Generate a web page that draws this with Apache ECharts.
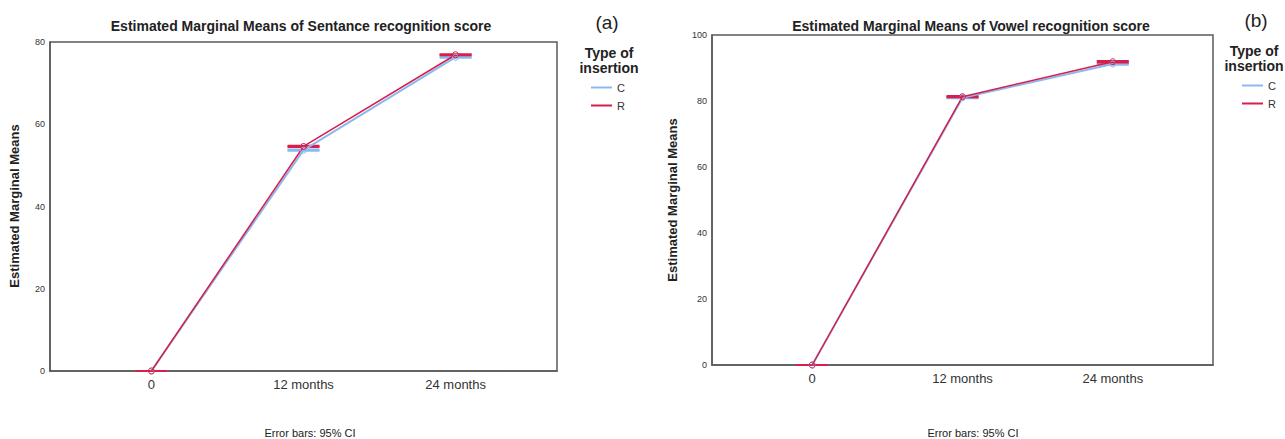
<!DOCTYPE html>
<html>
<head>
<meta charset="utf-8">
<script src="https://cdn.jsdelivr.net/npm/echarts@6/dist/echarts.min.js"></script>
<style>
html,body{margin:0;padding:0;background:#fff;}
#chart{width:1285px;height:439px;}
</style>
</head>
<body>
<div id="chart"></div>
<script>
// ---- data ----
const categories = ['0', '12 months', '24 months'];
const seriesNames = ['C', 'R'];

// (a) Sentence recognition score
const sentC = [0, 53.7, 76.3];
const sentR = [0, 54.6, 76.9];
const sentCLow = [0, 53.55, 76.15];
const sentCHigh = [0, 53.85, 76.45];
const sentRLow = [0, 54.45, 76.75];
const sentRHigh = [0, 54.75, 77.05];

// (b) Vowel recognition score
const vowC = [0, 81.0, 91.2];
const vowR = [0, 81.3, 91.9];
const vowCLow = [0, 80.8, 91.0];
const vowCHigh = [0, 81.2, 91.4];
const vowRLow = [0, 81.1, 91.7];
const vowRHigh = [0, 81.5, 92.1];

const yTicksA = {min: 0, max: 80, interval: 20};
const yTicksB = {min: 0, max: 100, interval: 20};

// ---- styling ----
const colC = '#8db8ef';
const colR = '#d61f4a';
const frame = '#5a5a5a';
const font = 'Liberation Sans, Arial, sans-serif';

const pts = arr => arr.map((v, i) => [i, v]);
const ci = (lo, hi) => lo.map((v, i) => [i, v, hi[i]]);

function errRender(color) {
  return function (params, api) {
    const x = api.value(0), lo = api.value(1), hi = api.value(2);
    const a = api.coord([x, lo]);
    const b = api.coord([x, hi]);
    const hw = 16;
    const st = {stroke: color, lineWidth: 2};
    return {
      type: 'group',
      children: [
        {type: 'line', shape: {x1: a[0], y1: a[1], x2: b[0], y2: b[1]}, style: st},
        {type: 'line', shape: {x1: a[0] - hw, y1: a[1], x2: a[0] + hw, y2: a[1]}, style: st},
        {type: 'line', shape: {x1: b[0] - hw, y1: b[1], x2: b[0] + hw, y2: b[1]}, style: st}
      ]
    };
  };
}

function xAxis(gi) {
  return {
    type: 'value', gridIndex: gi, min: -2 / 3, max: 8 / 3,
    axisLine: {show: true, onZero: false, lineStyle: {color: frame, width: 1.5}},
    axisTick: {show: false},
    splitLine: {show: false},
    axisLabel: {
      customValues: [0, 1, 2],
      formatter: v => categories[Math.round(v)],
      fontSize: 13, color: '#333', fontFamily: font, margin: 7
    }
  };
}
function yAxis(gi, t) {
  return {
    type: 'value', gridIndex: gi, min: t.min, max: t.max, interval: t.interval,
    axisLine: {show: true, onZero: false, lineStyle: {color: frame, width: 1.5}},
    axisTick: {show: false},
    splitLine: {show: false},
    axisLabel: {fontSize: 9, color: '#333', fontFamily: font, margin: 5}
  };
}
function lineSeries(name, data, color, w, gi) {
  return {
    name: name, type: 'line', xAxisIndex: gi, yAxisIndex: gi,
    data: pts(data), symbol: 'circle', symbolSize: 6,
    lineStyle: {color: color, width: w},
    itemStyle: {color: 'rgba(255,255,255,0)', borderColor: color, borderWidth: 1},
    z: 3, animation: false
  };
}
function errSeries(name, lo, hi, color, gi) {
  return {
    name: name, type: 'custom', xAxisIndex: gi, yAxisIndex: gi,
    data: ci(lo, hi), renderItem: errRender(color),
    itemStyle: {color: color},
    encode: {x: 0, y: [1, 2]}, z: 2, animation: false
  };
}

const chart = echarts.init(document.getElementById('chart'), null, {renderer: 'svg'});

const txt = (text, x, y, size, bold, extra) => Object.assign({
  type: 'text', x: x, y: y,
  style: {text: text, fontSize: size, fontWeight: bold ? 'bold' : 'normal', fill: '#222', fontFamily: font,
          textAlign: 'center', textVerticalAlign: 'middle', lineHeight: 15}
}, extra || {});

const legendStyle = {
  orient: 'vertical', itemWidth: 21, itemHeight: 2, itemGap: 7, icon: 'rect', padding: 0,
  textStyle: {fontSize: 11, color: '#333', fontFamily: font}
};

chart.setOption({
  animation: false,
  grid: [
    {left: 50, top: 42, width: 507, height: 329, show: true, borderColor: frame, borderWidth: 1.5, backgroundColor: '#fff'},
    {left: 712, top: 35, width: 501, height: 330, show: true, borderColor: frame, borderWidth: 1.5, backgroundColor: '#fff'}
  ],
  xAxis: [xAxis(0), xAxis(1)],
  yAxis: [yAxis(0, yTicksA), yAxis(1, yTicksB)],
  legend: [
    Object.assign({data: [{name: 'C', itemStyle: {color: colC}}, {name: 'R', itemStyle: {color: colR}}], left: 591, top: 82}, legendStyle),
    Object.assign({data: [{name: 'C', itemStyle: {color: colC}}, {name: 'R', itemStyle: {color: colR}}], left: 1242, top: 80}, legendStyle)
  ],
  series: [
    errSeries('C', sentCLow, sentCHigh, colC, 0),
    lineSeries('C', sentC, colC, 2, 0),
    errSeries('R', sentRLow, sentRHigh, colR, 0),
    lineSeries('R', sentR, colR, 1.5, 0),
    errSeries('C', vowCLow, vowCHigh, colC, 1),
    lineSeries('C', vowC, colC, 2, 1),
    errSeries('R', vowRLow, vowRHigh, colR, 1),
    lineSeries('R', vowR, colR, 1.5, 1)
  ],
  graphic: [
    txt('Estimated Marginal Means of Sentance recognition score', 301, 26, 14, true),
    txt('Estimated Marginal Means of Vowel recognition score', 971, 26, 14, true),
    txt('(a)', 607, 22, 19, false),
    txt('(b)', 1256, 20, 19, false),
    txt('Type of\ninsertion', 609, 60, 14, true),
    txt('Type of\ninsertion', 1254, 58, 14, true),
    txt('Estimated Marginal Means', 14, 206, 13, true, {rotation: Math.PI / 2}),
    txt('Estimated Marginal Means', 672, 200, 13, true, {rotation: Math.PI / 2}),
    txt('Error bars: 95% CI', 310, 433, 11, false),
    txt('Error bars: 95% CI', 973, 433, 11, false)
  ]
});
</script>
</body>
</html>
